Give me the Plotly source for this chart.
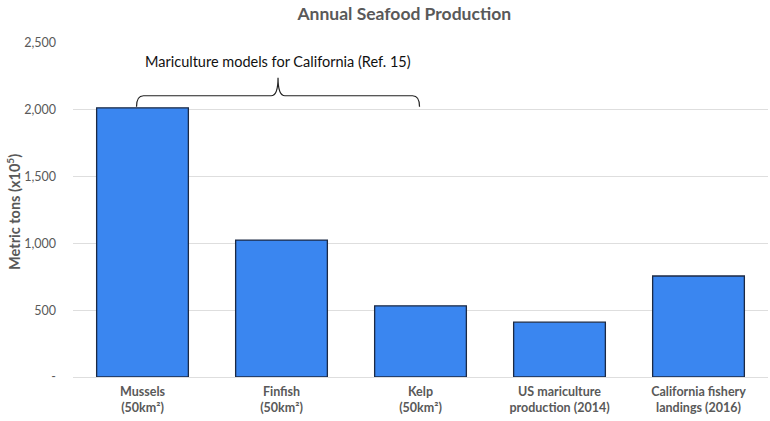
import plotly.graph_objects as go

categories = ["Mussels<br>(50km²)", "Finfish<br>(50km²)", "Kelp<br>(50km²)",
              "US mariculture<br>production (2014)", "California fishery<br>landings (2016)"]
values = [2015, 1025, 533, 410, 756]
tick_vals = [0, 500, 1000, 1500, 2000, 2500]
tick_text = ["-", "500", "1,000", "1,500", "2,000", "2,500"]

x_pos = list(range(len(categories)))
FONT = "Lato, 'Open Sans', sans-serif"
GRAY = "#595959"

fig = go.Figure(go.Bar(
    x=x_pos, y=values, width=0.66,
    marker=dict(color="#3a86f0", line=dict(color="#1c2a44", width=1.3)),
))

# bracket (curly brace) above first three bars
xl, xm, xr = -0.043, 0.975, 1.993
yl, yline, yp = 2022, 2105, 2240
dx = 0.05
path = (f"M {xl},{yl} Q {xl},{yline} {xl+dx},{yline} L {xm-dx},{yline} "
        f"Q {xm},{yline} {xm},{yp} Q {xm},{yline} {xm+dx},{yline} "
        f"L {xr-dx},{yline} Q {xr},{yline} {xr},{yl}")
fig.add_shape(type="path", path=path, xref="x", yref="y",
              line=dict(color="#222222", width=1.2))
fig.add_annotation(x=xm, y=2365, xref="x", yref="y", showarrow=False,
                   text="Mariculture models for California (Ref. 15)",
                   font=dict(family=FONT, size=14.5, color="#111111"))
fig.add_annotation(x=-0.086, y=0.495, xref="paper", yref="paper", showarrow=False,
                   textangle=-90, xanchor="center", yanchor="middle",
                   text="<b>Metric tons (x10<sup>5</sup>)</b>",
                   font=dict(family=FONT, size=14.5, color=GRAY))

fig.update_layout(
    width=770, height=421,
    margin=dict(l=73, r=2, t=43, b=44, autoexpand=False),
    paper_bgcolor="white", plot_bgcolor="white",
    title=dict(text="<b>Annual Seafood Production</b>", x=0.525, xanchor="center",
               y=0.967, yanchor="middle", automargin=False,
               font=dict(family=FONT, size=17.5, color=GRAY)),
    showlegend=False,
    xaxis=dict(tickmode="array", tickvals=x_pos,
               ticktext=[f"<b>{c.replace('<br>', '</b><br><b>')}</b>" for c in categories],
               range=[-0.5, 4.5], showgrid=False, zeroline=False,
               showline=False, ticks="", automargin=False, ticklabelstandoff=5,
               tickfont=dict(family=FONT, size=12.5, color=GRAY)),
    yaxis=dict(range=[0, 2500], tickmode="array", tickvals=tick_vals, ticktext=tick_text,
               showgrid=True, gridcolor="#dedede", gridwidth=1, zeroline=True,
               zerolinecolor="#dedede", zerolinewidth=1, automargin=False,
               ticks="", ticklabelstandoff=16,
               tickfont=dict(family=FONT, size=12.5, color=GRAY)),
)

fig.write_html("out.html", config={"displayModeBar": False},
               post_script="document.body.style.margin='0';")
